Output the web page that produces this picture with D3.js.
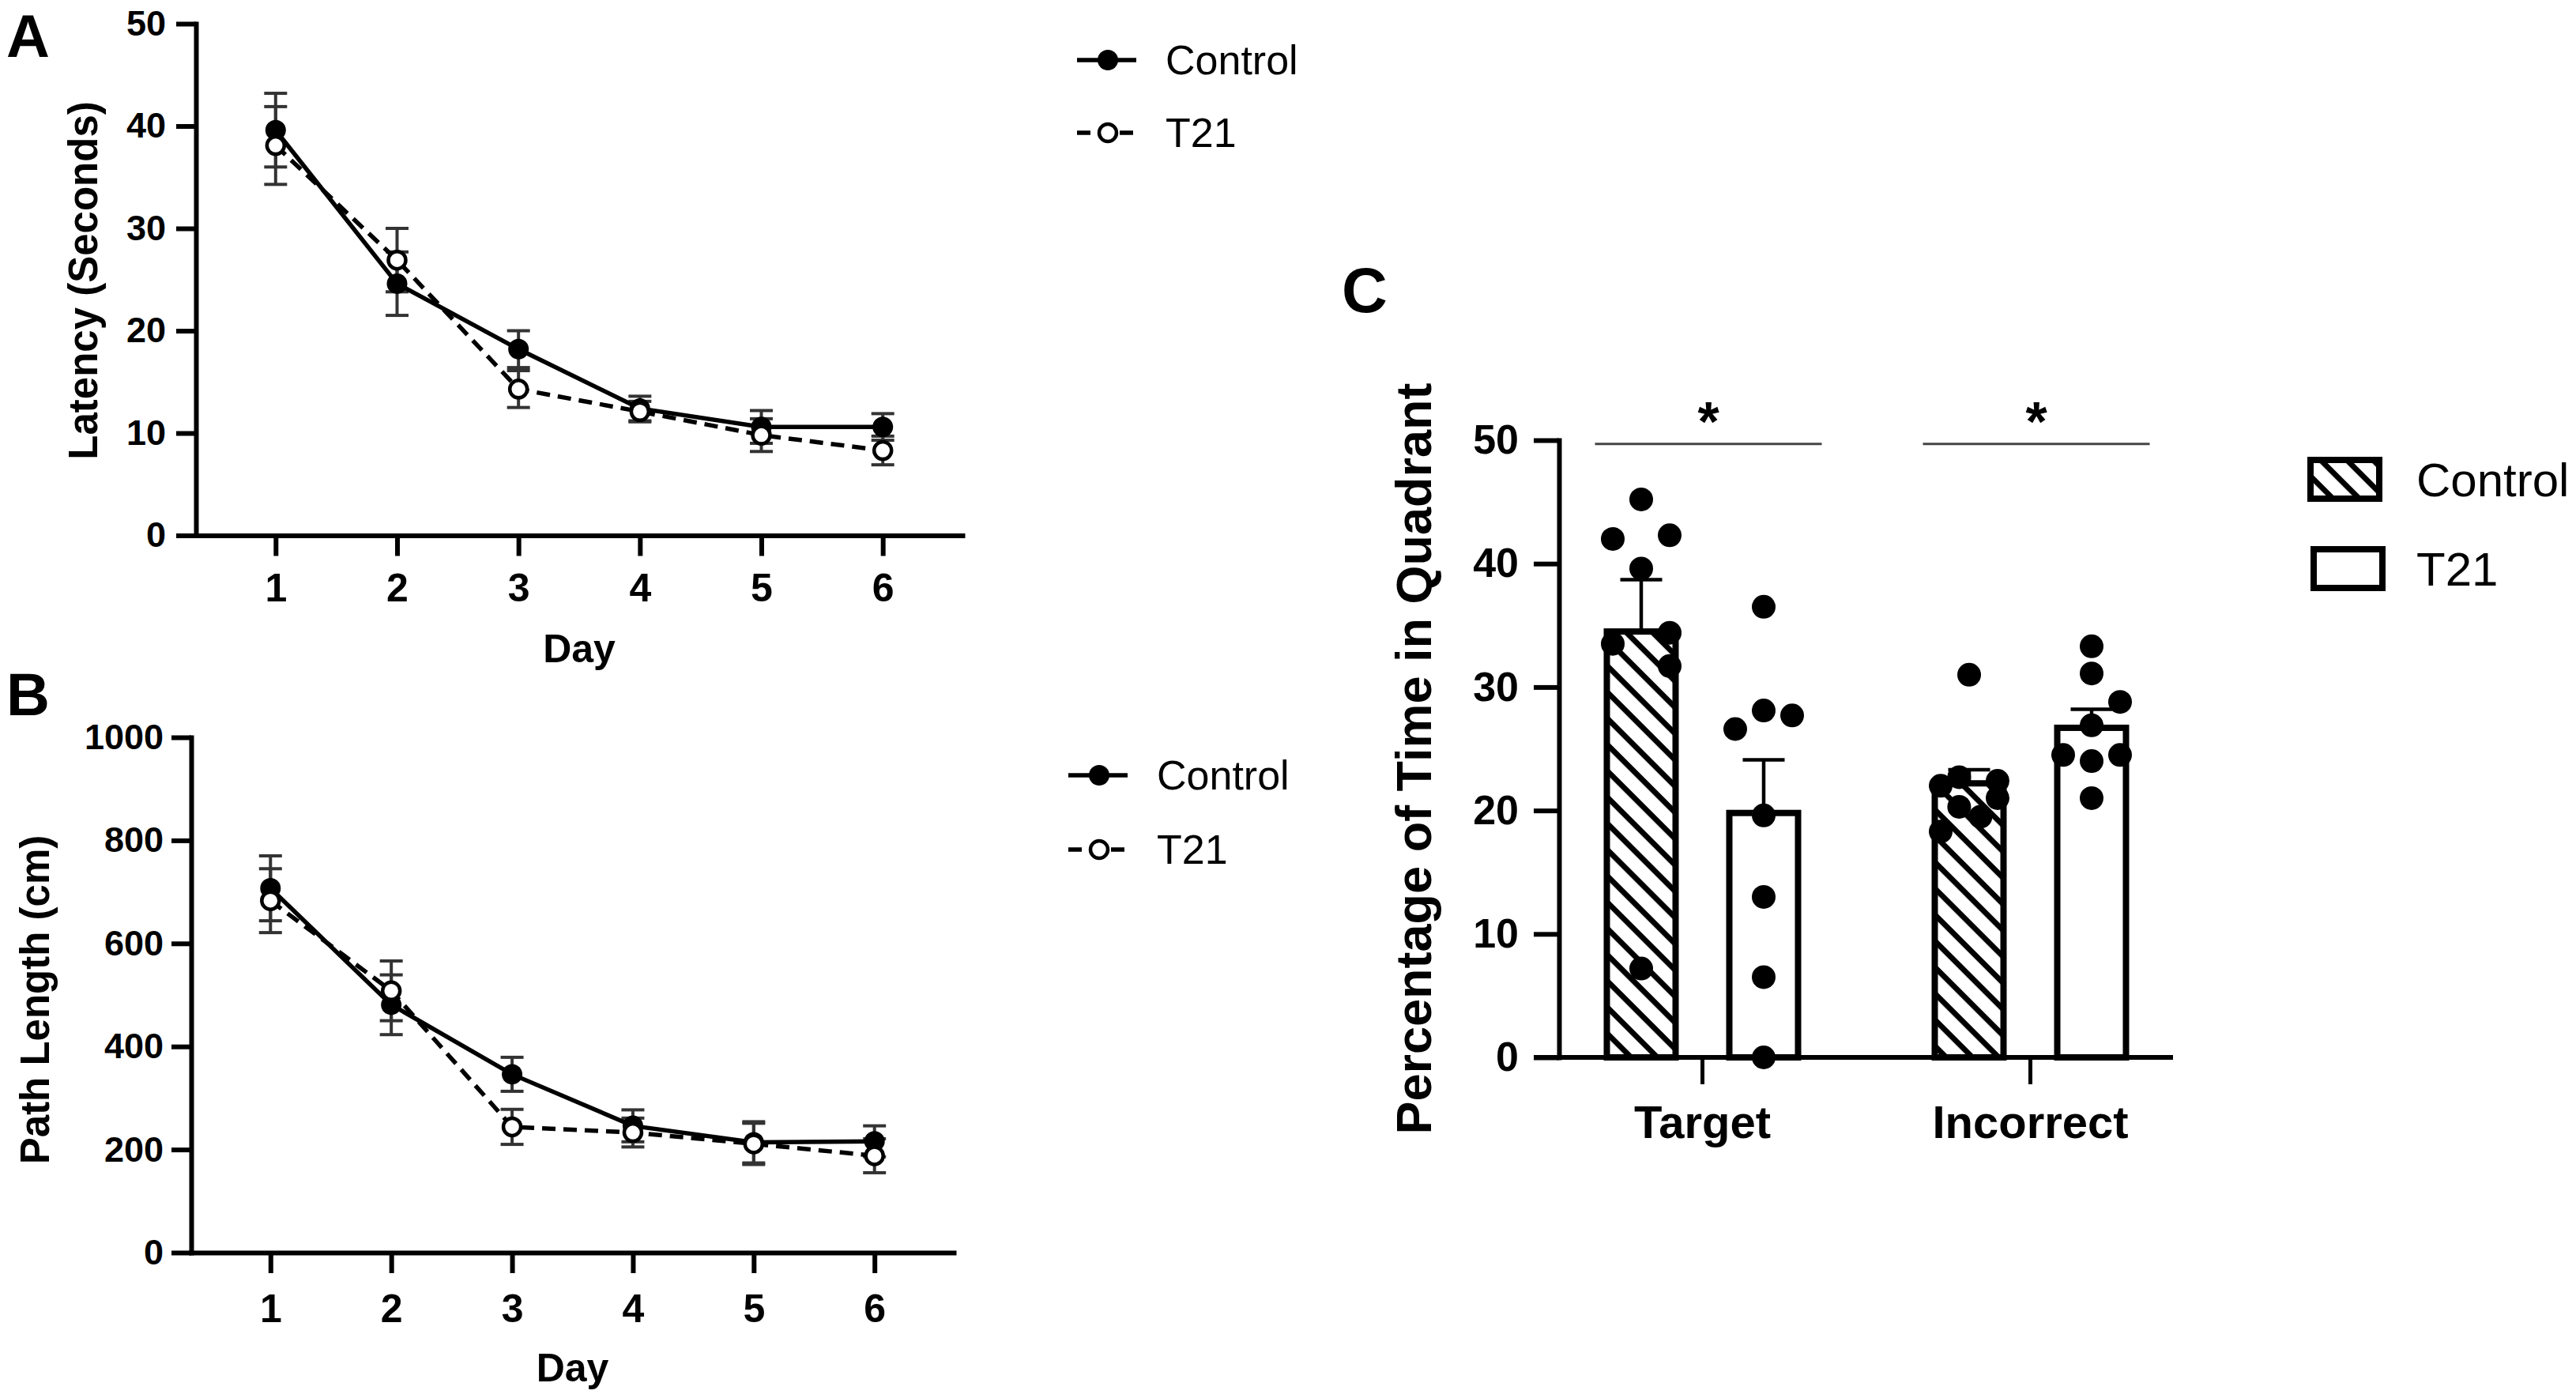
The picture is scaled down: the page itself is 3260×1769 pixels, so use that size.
<!DOCTYPE html>
<html><head><meta charset="utf-8">
<script src="https://cdn.jsdelivr.net/npm/d3@7"></script>
<style>body{margin:0;background:#fff}svg{display:block}</style>
</head><body>
<script>
// ---------- DATA ----------
const days = [1, 2, 3, 4, 5, 6];
const latencyControl    = [39.6, 24.6, 18.2, 12.4, 10.6, 10.6];
const latencyControlSem = [3.6, 3.1, 1.8, 1.2, 1.6, 1.3];
const latencyT21        = [38.1, 26.9, 14.3, 12.1, 9.8, 8.3];
const latencyT21Sem     = [3.8, 3.1, 1.8, 1.0, 1.6, 1.4];
const latencyTicks = [0, 10, 20, 30, 40, 50];

const pathControl    = [707, 481, 346, 246, 214, 216];
const pathControlSem = [63, 58, 33, 31, 40, 30];
const pathT21        = [683, 508, 244, 233, 211, 188];
const pathT21Sem     = [62, 58, 34, 28, 40, 33];
const pathTicks = [0, 200, 400, 600, 800, 1000];

const groups = ["Target", "Incorrect"];
const seriesNames = ["Control", "T21"];
const quadMeanControl = [34.5, 22.2];
const quadSemControl  = [4.2, 1.1];
const quadMeanT21     = [19.8, 26.7];
const quadSemT21      = [4.3, 1.5];
const quadTicks = [0, 10, 20, 30, 40, 50];
// individual animals (value, jitter column)
const ptsControlTarget    = [45.2, 42.0, 42.3, 39.6, 34.4, 33.5, 31.7, 7.2];
const colsControlTarget   = [0, -1, 1, 0, 1, -1, 1, 0];
const ptsT21Target        = [36.5, 28.1, 27.7, 26.6, 19.6, 13.0, 6.5, 0];
const colsT21Target       = [0, 0, 1, -1, 0, 0, 0, 0];
const ptsControlIncorrect = [31.0, 22.7, 22.4, 22.0, 20.3, 19.5, 18.3, 21.0];
const colsControlIncorrect= [0, -0.35, 1, -1, -0.35, 0.4, -1, 1];
const ptsT21Incorrect     = [33.3, 31.1, 28.8, 26.9, 24.5, 24.0, 24.5, 21.0];
const colsT21Incorrect    = [0, 0, 1, 0, -1, 0, 1, 0];
const sigY = 49.7;

// ---------- SETUP ----------
const W = 3260, H = 1769;
const FONT = "'Liberation Sans', Arial, Helvetica, sans-serif";
const svg = d3.select("body").append("svg")
  .attr("width", W).attr("height", H)
  .style("font-family", FONT);
svg.append("rect").attr("width", W).attr("height", H).attr("fill", "#fff");

const defs = svg.append("defs");
const pat = defs.append("pattern").attr("id", "hatch")
  .attr("patternUnits", "userSpaceOnUse")
  .attr("width", 20).attr("height", 23.5)
  .attr("patternTransform", "rotate(45)");
pat.append("rect").attr("width", 20).attr("height", 23.5).attr("fill", "#fff");
pat.append("rect").attr("width", 20).attr("height", 7).attr("fill", "#000");

function styleAxis(g, sw) {
  g.selectAll(".domain").attr("stroke", "#000").attr("stroke-width", sw).attr("stroke-linecap", "square");
  g.selectAll(".tick line").attr("stroke", "#000").attr("stroke-width", sw);
  g.selectAll("text").attr("fill", "#000").style("font-family", FONT).style("font-weight", "bold");
}

// ---------- LINE PANELS ----------
function linePanel(c) {
  const x = d3.scaleLinear().domain([0.344, 6.656]).range(c.xr);
  const y = d3.scaleLinear().domain([0, c.ticks[c.ticks.length - 1]]).range(c.yr);
  const g = svg.append("g");

  // axes
  const ya = g.append("g").attr("transform", `translate(${c.xr[0]},0)`)
    .call(d3.axisLeft(y).tickValues(c.ticks).tickFormat(d3.format("d")).tickSize(25).tickSizeOuter(0).tickPadding(c.ypad));
  ya.selectAll("text").style("font-size", "45px");
  styleAxis(ya, 6);
  const xa = g.append("g").attr("transform", `translate(0,${c.yr[0]})`)
    .call(d3.axisBottom(x).tickValues(days).tickFormat(d3.format("d")).tickSize(26).tickSizeOuter(0).tickPadding(c.xpad));
  xa.selectAll("text").style("font-size", "50px");
  styleAxis(xa, 6);

  const series = [
    {name: "T21", v: c.t21, e: c.t21Sem, dash: "17,10", fill: "#fff"},
    {name: "Control", v: c.ctl, e: c.ctlSem, dash: null, fill: "#000"}
  ];
  // error bars
  series.forEach(s => {
    const eg = g.append("g").attr("stroke", "#333").attr("stroke-width", 4);
    days.forEach((d, i) => {
      const cx = x(d), top = y(s.v[i] + s.e[i]), bot = y(s.v[i] - s.e[i]);
      eg.append("line").attr("x1", cx).attr("x2", cx).attr("y1", top).attr("y2", bot);
      eg.append("line").attr("x1", cx - 14.5).attr("x2", cx + 14.5).attr("y1", top).attr("y2", top);
      eg.append("line").attr("x1", cx - 14.5).attr("x2", cx + 14.5).attr("y1", bot).attr("y2", bot);
    });
  });
  const line = d3.line().x((d, i) => x(days[i])).y(d => y(d));
  series.forEach(s => {
    g.append("path").attr("d", line(s.v)).attr("fill", "none").attr("stroke", "#000")
      .attr("stroke-width", 5.5).attr("stroke-dasharray", s.dash);
  });
  // markers: control then T21 on top
  [series[1], series[0]].forEach(s => {
    g.selectAll(null).data(s.v).join("circle")
      .attr("cx", (d, i) => x(days[i])).attr("cy", d => y(d))
      .attr("r", s.name === "Control" ? 13 : 11)
      .attr("fill", s.fill).attr("stroke", "#000").attr("stroke-width", s.name === "Control" ? 0 : 4.5);
  });

  // labels
  g.append("text").attr("transform", `translate(${c.ylab[0]},${c.ylab[1]}) rotate(-90)`)
    .attr("text-anchor", "middle").style("font-size", "51px").style("font-weight", "bold").text(c.ylabel);
  g.append("text").attr("x", (c.xr[0] + c.xr[1]) / 2).attr("y", c.dayY)
    .attr("text-anchor", "middle").style("font-size", "50px").style("font-weight", "bold").text("Day");
  g.append("text").attr("x", c.panel[0]).attr("y", c.panel[1])
    .style("font-size", "76px").style("font-weight", "bold").text(c.panelLabel);

  // legend
  const lg = g.append("g");
  series.slice().reverse().forEach((s, i) => {
    const ly = c.leg[1] + i * c.legGap;
    lg.append("line").attr("x1", c.leg[0]).attr("x2", c.leg[0] + 75).attr("y1", ly).attr("y2", ly)
      .attr("stroke", "#000").attr("stroke-width", 5.5).attr("stroke-dasharray", s.dash);
    lg.append("circle").attr("cx", c.leg[0] + 39).attr("cy", ly)
      .attr("r", s.name === "Control" ? 13 : 11)
      .attr("fill", s.fill).attr("stroke", "#000").attr("stroke-width", s.name === "Control" ? 0 : 4.5);
    lg.append("text").attr("x", c.leg[0] + 112).attr("y", ly).attr("dominant-baseline", "central")
      .style("font-size", "52px").text(s.name);
  });
}

linePanel({
  xr: [248, 1218], yr: [677.5, 30], ticks: latencyTicks, ypad: 13, xpad: 22,
  ctl: latencyControl, ctlSem: latencyControlSem, t21: latencyT21, t21Sem: latencyT21Sem,
  ylabel: "Latency (Seconds)", ylab: [123, 355], dayY: 838,
  panel: [8, 72], panelLabel: "A", leg: [1363, 76], legGap: 92
});
linePanel({
  xr: [242, 1207], yr: [1585, 933], ticks: pathTicks, ypad: 10, xpad: 26,
  ctl: pathControl, ctlSem: pathControlSem, t21: pathT21, t21Sem: pathT21Sem,
  ylabel: "Path Length (cm)", ylab: [62, 1265], dayY: 1748,
  panel: [8, 905], panelLabel: "B", leg: [1352, 981], legGap: 94
});

// ---------- BAR PANEL C ----------
(function () {
  const y = d3.scaleLinear().domain([0, 50]).range([1338, 557]);
  const xg = d3.scalePoint().domain(groups).range([2154, 2569]);
  const xs = d3.scalePoint().domain(seriesNames).range([-77, 78]);
  const barW = 87, jit = 36;
  const axX = 1973;
  const g = svg.append("g");

  const bars = [
    {g: "Target", s: "Control", m: quadMeanControl[0], e: quadSemControl[0], p: ptsControlTarget, c: colsControlTarget},
    {g: "Target", s: "T21", m: quadMeanT21[0], e: quadSemT21[0], p: ptsT21Target, c: colsT21Target},
    {g: "Incorrect", s: "Control", m: quadMeanControl[1], e: quadSemControl[1], p: ptsControlIncorrect, c: colsControlIncorrect},
    {g: "Incorrect", s: "T21", m: quadMeanT21[1], e: quadSemT21[1], p: ptsT21Incorrect, c: colsT21Incorrect}
  ];
  bars.forEach(b => {
    const cx = xg(b.g) + xs(b.s);
    g.append("rect").attr("x", cx - barW / 2).attr("width", barW)
      .attr("y", y(b.m)).attr("height", y(0) - y(b.m))
      .attr("fill", b.s === "Control" ? "url(#hatch)" : "#fff")
      .attr("stroke", "#000").attr("stroke-width", 8);
    g.append("line").attr("x1", cx).attr("x2", cx).attr("y1", y(b.m)).attr("y2", y(b.m + b.e))
      .attr("stroke", "#000").attr("stroke-width", 4.5);
    g.append("line").attr("x1", cx - 26.5).attr("x2", cx + 26.5).attr("y1", y(b.m + b.e)).attr("y2", y(b.m + b.e))
      .attr("stroke", "#000").attr("stroke-width", 4.5);
  });
  bars.forEach(b => {
    const cx = xg(b.g) + xs(b.s);
    g.selectAll(null).data(b.p).join("circle")
      .attr("cx", (d, i) => cx + b.c[i] * jit).attr("cy", d => y(d)).attr("r", 15).attr("fill", "#000");
  });

  // axes
  const ya = g.append("g").attr("transform", `translate(${axX},0)`)
    .call(d3.axisLeft(y).tickValues(quadTicks).tickSize(32).tickSizeOuter(0).tickPadding(19));
  ya.selectAll("text").style("font-size", "52px");
  styleAxis(ya, 6);
  const xa = g.append("g").attr("transform", `translate(0,${y(0)})`)
    .call(d3.axisBottom(xg).tickSize(34).tickSizeOuter(0).tickPadding(27));
  xa.select(".domain").remove();
  xa.selectAll("text").style("font-size", "58px");
  styleAxis(xa, 5);
  xa.append("line").attr("x1", axX - 32).attr("x2", xg("Incorrect") + 181).attr("y1", 0).attr("y2", 0)
    .attr("stroke", "#000").attr("stroke-width", 6);

  // significance
  groups.forEach(gr => {
    const l = xg(gr) + xs("Control") - barW / 2 - 15;
    const r = xg(gr) + xs("T21") + barW / 2 + 30;
    g.append("line").attr("x1", l).attr("x2", r).attr("y1", y(sigY)).attr("y2", y(sigY))
      .attr("stroke", "#444").attr("stroke-width", 3);
    g.append("text").attr("x", (l + r) / 2).attr("y", y(sigY) - 4).attr("text-anchor", "middle")
      .style("font-size", "70px").style("font-weight", "bold").text("*");
  });

  // labels
  g.append("text").attr("transform", `translate(1811,960) rotate(-90)`)
    .attr("text-anchor", "middle").style("font-size", "63px").style("font-weight", "bold")
    .text("Percentage of Time in Quadrant");
  g.append("text").attr("x", 1698).attr("y", 395).style("font-size", "80px").style("font-weight", "bold").text("C");

  // legend
  seriesNames.forEach((s, i) => {
    const ly = 607 + i * 113;
    g.append("rect").attr("x", 2924 + i * 4).attr("y", ly - 25).attr("width", 87).attr("height", 49)
      .attr("fill", s === "Control" ? "url(#hatch)" : "#fff").attr("stroke", "#000").attr("stroke-width", 8);
    g.append("text").attr("x", 3058).attr("y", ly).attr("dominant-baseline", "central")
      .style("font-size", "60px").text(s);
  });
})();
</script>
</body></html>
